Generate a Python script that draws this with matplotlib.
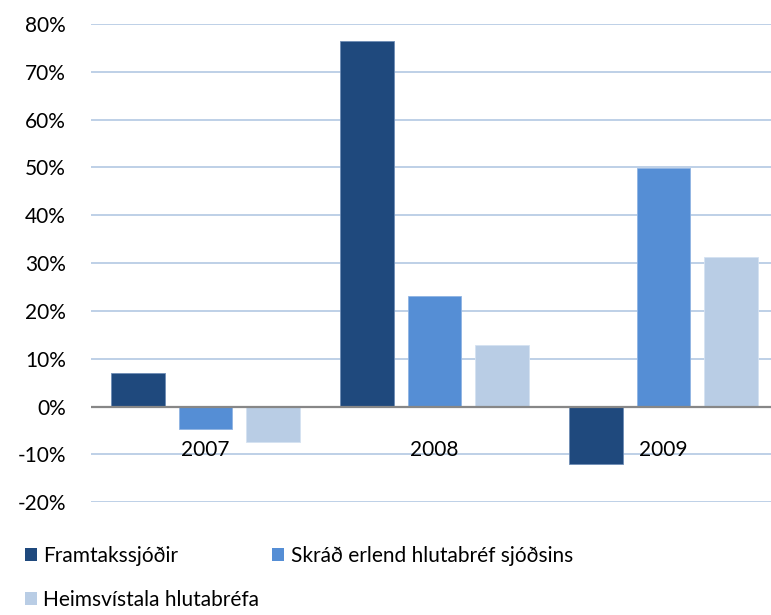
import numpy as np
import matplotlib
matplotlib.use("Agg")
import matplotlib.pyplot as plt
from matplotlib.patches import Patch

plt.rcParams['font.family'] = ['Lato', 'DejaVu Sans']

# Annual returns (%)
years = ["2007", "2008", "2009"]
series = ["Framtakssjóðir", "Skráð erlend hlutabréf sjóðsins", "Heimsvístala hlutabréfa"]
framtak = [7.0, 76.5, -12.0]
skrad = [-4.7, 23.2, 49.8]
heims = [-7.5, 12.8, 31.2]
colors = ["#1f497d", "#558ed5", "#b9cde5"]
edges = ["#6e8db5", "#8fb4e3", "#d5e2f1"]

fig = plt.figure(figsize=(7.71, 6.15), dpi=100)
ax = fig.add_axes([0.118, 0.1833, 0.891, 0.7777])

x = np.arange(len(years))
width = 0.234
step = 0.294
for k, vals in enumerate([framtak, skrad, heims]):
    ax.bar(x + (k - 1) * step, vals, width, color=colors[k],
           edgecolor=edges[k], linewidth=0.6, zorder=3)

ax.set_xlim(-0.5, 2.5)
ax.set_ylim(-20, 80)
ax.set_yticks(np.arange(-20, 81, 10))
ax.set_yticklabels([f"{v}%" for v in range(-20, 81, 10)])
ax.set_xticks([])
ax.tick_params(axis='y', length=0, pad=18, labelsize=15, labelcolor="#000000")

ax.grid(axis='y', color="#b9cde5", linewidth=1.3, zorder=0)
ax.axhline(0, color="#878787", linewidth=1.6, zorder=4)
for s in ax.spines.values():
    s.set_visible(False)

for i, yr in enumerate(years):
    ax.text(i, -9.0, yr, ha='center', va='center', fontsize=15, zorder=5)

handles = [Patch(facecolor=colors[k], label=series[k]) for k in range(3)]
order = [0, 2, 1]
fig.legend([handles[k] for k in order], [series[k] for k in order],
           loc='upper left', bbox_to_anchor=(0.032, 0.112), ncol=2,
           frameon=False, fontsize=15, handlelength=0.6, handleheight=0.6,
           handletextpad=0.3, columnspacing=0.6, labelspacing=1.15,
           borderaxespad=0, borderpad=0)

fig.savefig("out.png", dpi=100)
